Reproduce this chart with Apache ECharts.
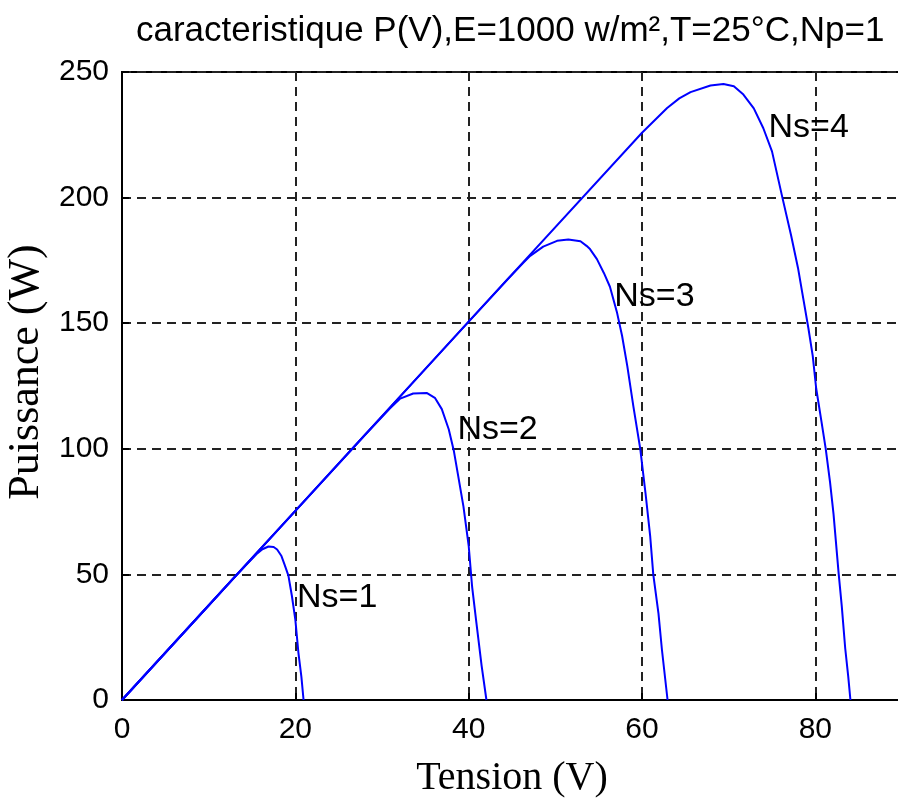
<!DOCTYPE html>
<html>
<head>
<meta charset="utf-8">
<script src="https://cdn.jsdelivr.net/npm/echarts@6/dist/echarts.min.js"></script>
<style>html,body{margin:0;padding:0;background:#fff;}#c{width:898px;height:799px;}</style>
</head>
<body>
<div id="c"></div>
<script>
// Data: [Tension (V), Puissance (W)]
var ns1 = [[0,0],[5,18.8],[10,37.6],[12.5,47.1],[14,52.6],[15.5,58.0],[16.2,60.0],[16.9,61.1],[17.5,60.9],[17.9,59.9],[18.4,57.3],[18.8,53.5],[19.2,49.5],[19.6,41.5],[20.0,32.0],[20.35,19.0],[20.7,9.2],[20.95,0]];
var ns2 = [[0,0],[10,37.7],[20,75.3],[28,105.4],[30.9,116.0],[32.1,120.0],[33.6,122.0],[35.2,122.2],[36.1,120.3],[36.9,115.8],[37.7,107.8],[38.3,99.0],[38.8,89.0],[39.4,77.0],[40.0,61.5],[40.4,45.0],[40.9,30.5],[41.5,13.5],[42.05,0]];
var ns3 = [[0,0],[20,75.3],[40,150.6],[44.5,167.5],[46.3,174.0],[47.1,176.8],[48.6,180.5],[50.2,182.8],[51.5,183.3],[52.9,182.6],[53.6,180.8],[54.0,179.5],[54.8,175.5],[55.6,170.0],[56.3,164.5],[57.1,154.5],[57.7,145.0],[58.3,133.0],[59.0,117.0],[59.8,100.0],[60.4,82.5],[60.95,65.0],[61.3,50.0],[61.9,34.5],[62.3,20.0],[62.95,0]];
var ns4 = [[0,0],[20,75.3],[40,150.6],[60,225.8],[62.9,235.7],[64.3,239.5],[65.6,242.0],[67.9,244.6],[69.4,245.2],[70.6,244.3],[71.7,241.0],[72.9,235.5],[74.0,227.6],[75.0,218.4],[76.2,200.0],[77.2,185.0],[78.0,172.0],[78.6,160.0],[79.2,148.0],[79.7,137.0],[80.1,124.0],[80.7,111.0],[81.2,100.0],[81.7,86.6],[82.1,74.0],[82.7,50.0],[83.05,37.4],[83.45,20.5],[83.8,9.2],[84.05,0]];
var curveNames = ['Ns=1','Ns=2','Ns=3','Ns=4'];
var labelPoints = [[20.2,40.6],[38.7,107.5],[56.8,160.4],[74.6,227.7]];
var xTicks = [0,20,40,60,80];
var yTicks = [0,50,100,150,200,250];
var titleText = 'caracteristique P(V),E=1000 w/m\u00b2,T=25\u00b0C,Np=1';

var chart = echarts.init(document.getElementById('c'), null, {renderer:'canvas'});
var curves = [ns1, ns2, ns3, ns4];
var series = curves.map(function(d, i){
  return {type:'line', name:curveNames[i], data:d, showSymbol:false, symbol:'none',
    lineStyle:{color:'#0000ff', width:2}, itemStyle:{color:'#0000ff'}, animation:false, z:3};
});
series.push({
  type:'scatter', symbolSize:0, animation:false, silent:true, z:4,
  itemStyle:{color:'#000', opacity:1},
  data: labelPoints.map(function(p,i){ return {value:p, name:curveNames[i]}; }),
  label:{show:true, position:'right', distance:0, formatter:'{b}', color:'#000', opacity:1,
    fontFamily:'Liberation Sans', fontSize:34}
});
var dash = {color:'#222', width:2, type:[9,6]};
chart.setOption({
  backgroundColor:'#fff',
  animation:false,
  title:{text:titleText, left:131, top:9,
    textStyle:{fontFamily:'Liberation Sans', fontSize:35, fontWeight:'normal', color:'#000'}},
  grid:{left:122, top:72, right:-4, bottom:99, outerBoundsMode:'none', containLabel:false,
    show:true, borderColor:'#000', borderWidth:2, backgroundColor:'#fff'},
  xAxis:{type:'value', min:0, max:90, interval:20,
    name:'Tension (V)', nameLocation:'middle', nameGap:58,
    nameTextStyle:{fontFamily:'Liberation Serif', fontSize:40, color:'#000'},
    axisLine:{lineStyle:{color:'#000', width:2}},
    axisTick:{inside:true, length:7, lineStyle:{color:'#000', width:2}},
    axisLabel:{fontFamily:'Liberation Sans', fontSize:30, color:'#000', margin:15,
      formatter:function(v){ return xTicks.indexOf(v) >= 0 ? String(v) : ''; }},
    splitLine:{show:true, lineStyle:dash}},
  yAxis:{type:'value', min:0, max:250, interval:50,
    name:'Puissance (W)', nameLocation:'middle', nameGap:71,
    nameTextStyle:{fontFamily:'Liberation Serif', fontSize:44, color:'#000', padding:[0,0,0,28]},
    axisLine:{show:true, lineStyle:{color:'#000', width:2}},
    axisTick:{show:true, inside:true, length:7, lineStyle:{color:'#000', width:2}},
    axisLabel:{fontFamily:'Liberation Sans', fontSize:30, color:'#000', margin:13,
      formatter:function(v){ return yTicks.indexOf(v) >= 0 ? String(v) : ''; }},
    splitLine:{show:true, lineStyle:dash}},
  series:series
});
</script>
</body>
</html>
